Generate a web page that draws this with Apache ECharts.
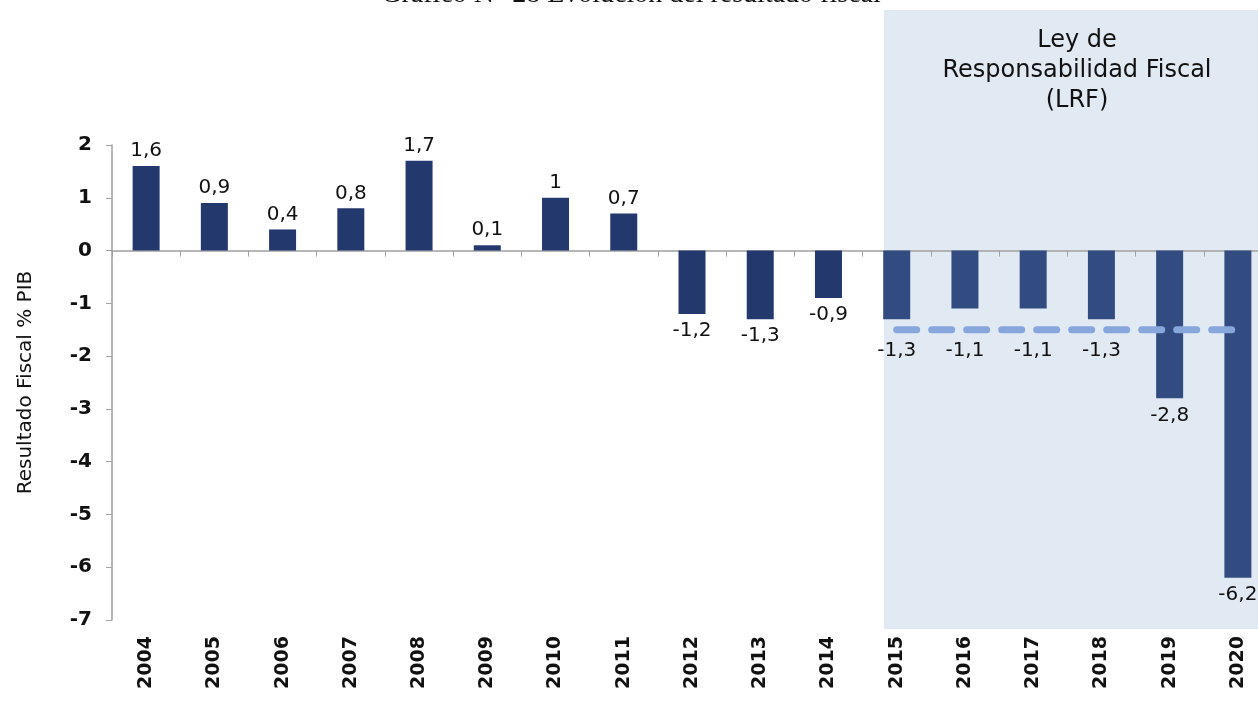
<!DOCTYPE html>
<html>
<head>
<meta charset="utf-8">
<script src="https://cdn.jsdelivr.net/npm/echarts@6/dist/echarts.min.js"></script>
<style>
  html, body { margin: 0; padding: 0; background: #fff; }
  #chart { width: 1258px; height: 702px; }
</style>
</head>
<body>
<div id="chart"></div>
<script>
const years = ["2004", "2005", "2006", "2007", "2008", "2009", "2010", "2011", "2012",
  "2013", "2014", "2015", "2016", "2017", "2018", "2019", "2020"];
const fiscalResult = [1.6, 0.9, 0.4, 0.8, 1.7, 0.1, 1, 0.7, -1.2, -1.3, -0.9,
  -1.3, -1.1, -1.1, -1.3, -2.8, -6.2];
// LRF reference line (-1,5 % PIB) from 2015 on
const lrfLine = [null, null, null, null, null, null, null, null, null, null, null,
  -1.5, -1.5, -1.5, -1.5, -1.5, -1.5];
const lrfFirstIndex = 11;

const labelFont = "DejaVu Sans";
const barDark = "#23386d";
const barLrf = "#324c82";

// labels under the dashed line sit lower
const labelDistance = (v, i) => {
  if (v >= 0) return 5;
  if (i >= lrfFirstIndex && i <= 14) return v <= -1.3 ? 22 : 32;
  return 7;
};

const chart = echarts.init(document.getElementById("chart"));

const option = {
  animation: false,
  // the plot runs past the right edge, as in the source picture
  grid: { left: 112, top: 145, width: 1160, height: 475, outerBoundsMode: "none", containLabel: false },
  graphic: [
    {
      type: "rect",
      z: -10,
      shape: { x: 884, y: 10, width: 380, height: 619 },
      style: { fill: "#e1e9f3" },
    },
    {
      type: "text",
      x: 1077,
      y: 26,
      style: {
        text: "Ley de\nResponsabilidad Fiscal\n(LRF)",
        align: "center",
        verticalAlign: "top",
        font: "24px " + labelFont,
        lineHeight: 30,
        fill: "#111",
      },
    },
    {
      type: "text",
      x: 631,
      y: 9,
      style: {
        text: "Gráfico N° 28 Evolución del resultado fiscal",
        align: "center",
        verticalAlign: "bottom",
        font: "28px 'Liberation Serif'",
        fill: "#111",
      },
    },
  ],
  xAxis: [
    {
      type: "category",
      data: years,
      axisLine: { onZero: true, lineStyle: { color: "#a0a0a0", width: 1.5 } },
      axisTick: { show: true, length: 6, lineStyle: { color: "#a0a0a0" } },
      axisLabel: { show: false },
    },
    {
      type: "category",
      data: years,
      position: "bottom",
      axisLine: { show: false, onZero: false },
      axisTick: { show: false },
      axisLabel: {
        rotate: 90,
        margin: 16,
        fontSize: 19,
        fontWeight: "bold",
        fontFamily: labelFont,
        color: "#111",
      },
    },
  ],
  yAxis: {
    type: "value",
    min: -7,
    max: 2,
    interval: 1,
    name: "Resultado Fiscal % PIB",
    nameLocation: "middle",
    nameRotate: 90,
    nameGap: 76,
    nameTextStyle: { fontSize: 20, fontFamily: labelFont, color: "#111" },
    axisLine: { show: true, lineStyle: { color: "#a0a0a0", width: 1.5 } },
    axisTick: { show: true, length: 6, lineStyle: { color: "#a0a0a0" } },
    splitLine: { show: false },
    axisLabel: {
      margin: 20,
      fontSize: 20,
      fontWeight: "bold",
      fontFamily: labelFont,
      color: "#111",
    },
  },
  series: [
    {
      type: "bar",
      xAxisIndex: 0,
      barWidth: 27,
      data: fiscalResult.map((v, i) => ({
        value: v,
        itemStyle: { color: i >= lrfFirstIndex ? barLrf : barDark },
        label: {
          position: v >= 0 ? "top" : "bottom",
          distance: labelDistance(v, i),
        },
      })),
      label: {
        show: true,
        fontSize: 20,
        fontFamily: labelFont,
        color: "#111",
        formatter: (p) => String(p.value).replace(".", ","),
      },
    },
    {
      type: "line",
      xAxisIndex: 0,
      data: lrfLine,
      symbol: "none",
      z: 5,
      lineStyle: { color: "#87a6dc", width: 7, type: [20, 15], cap: "round" },
    },
  ],
};

chart.setOption(option);
</script>
</body>
</html>
